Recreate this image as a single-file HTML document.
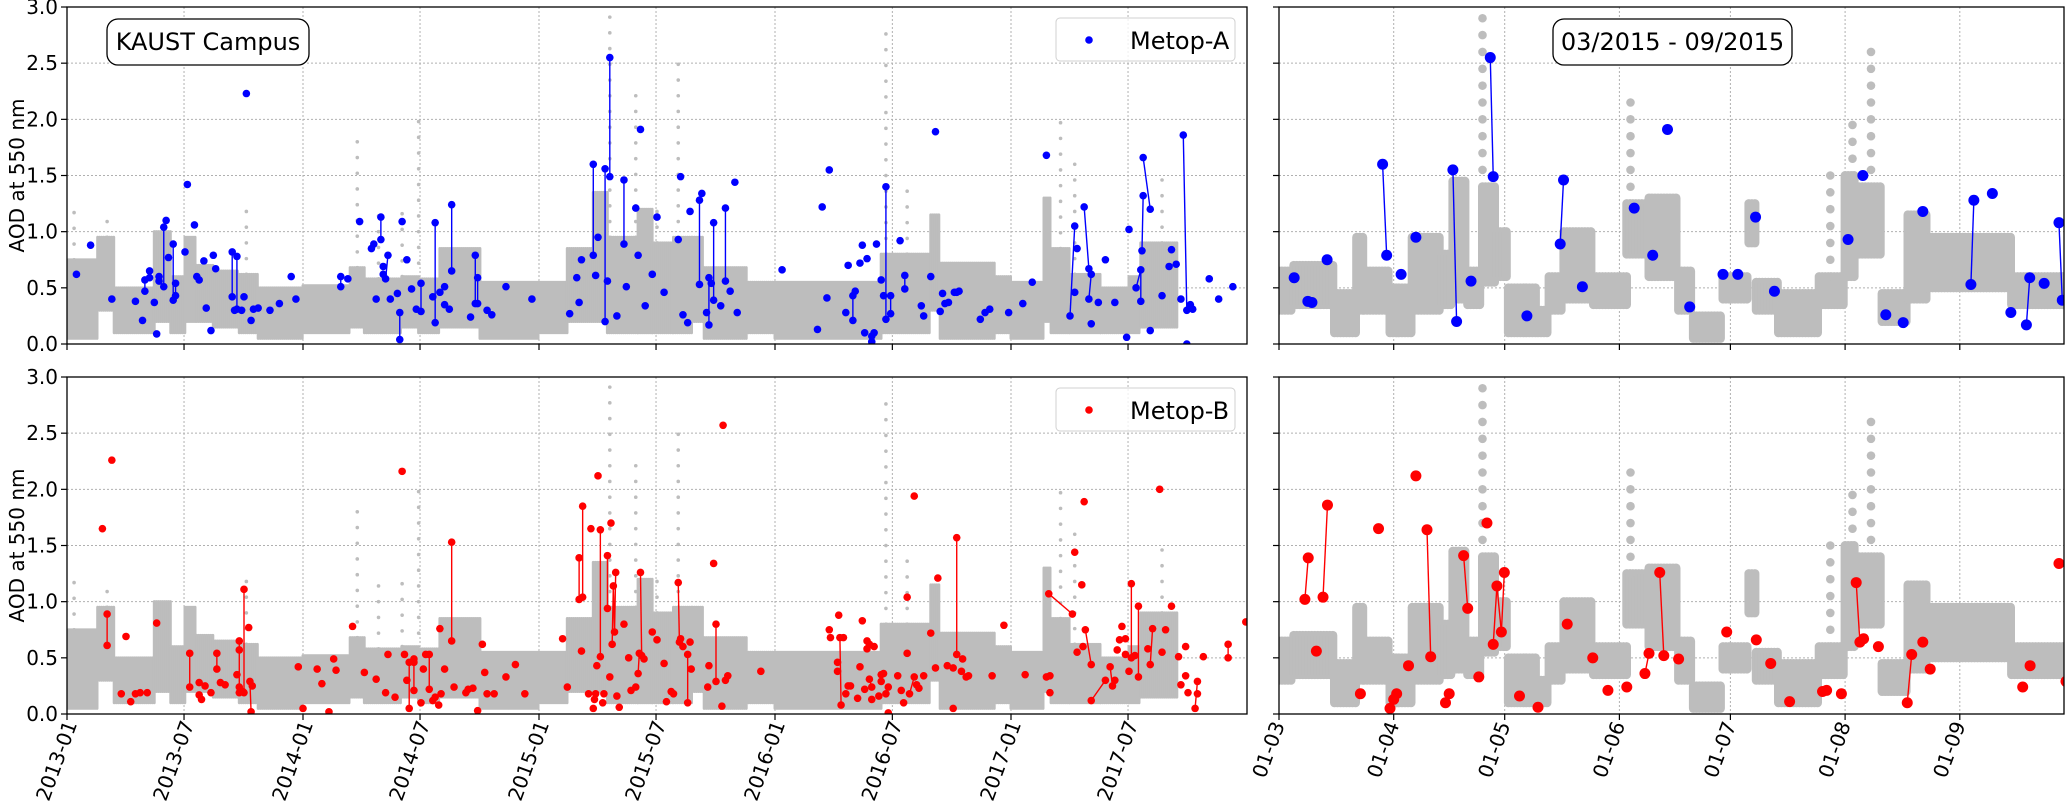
<!DOCTYPE html>
<html><head><meta charset="utf-8"><title>AOD at 550 nm – KAUST Campus</title>
<style>
html,body{margin:0;padding:0;background:#fff;}
svg{display:block;font-family:"DejaVu Sans","Liberation Sans",sans-serif;}
</style></head>
<body>
<svg id="chart" xmlns="http://www.w3.org/2000/svg" width="2067" height="810" viewBox="0 0 2067 810">
<defs>
<clipPath id="cTL"><rect x="67" y="7" width="1180" height="337"/></clipPath>
<clipPath id="cBL"><rect x="67" y="377" width="1180" height="337"/></clipPath>
<clipPath id="cTR"><rect x="1279" y="7" width="785" height="337"/></clipPath>
<clipPath id="cBR"><rect x="1279" y="377" width="785" height="337"/></clipPath>
</defs>
<g id="layer"></g>
</svg>
<script>
// ---------- background ground-truth AOD (grey cloud) : left panels, decimal year ----------
const grayStart=[2013.00,2013.13,2013.20,2013.37,2013.44,2013.50,2013.55,2013.62,2013.73,2013.81,2014.00,2014.20,2014.26,2014.42,2014.49,2014.58,2014.75,2015.00,2015.12,2015.23,2015.29,2015.42,2015.48,2015.57,2015.65,2015.70,2015.88,2016.00,2016.45,2016.66,2016.70,2016.93,2017.00,2017.14,2017.17,2017.25,2017.38,2017.50,2017.55];
const grayEnd=2017.71;
const grayLow=[0.05,0.3,0.1,0.2,0.1,0.2,0.2,0.15,0.1,0.05,0.1,0.15,0.1,0.15,0.1,0.15,0.05,0.1,0.2,0.2,0.1,0.1,0.1,0.1,0.2,0.05,0.1,0.05,0.1,0.3,0.05,0.1,0.05,0.2,0.1,0.1,0.1,0.1,0.15];
const grayHigh=[0.75,0.95,0.5,1.0,0.6,0.95,0.7,0.65,0.62,0.5,0.52,0.68,0.58,0.6,0.58,0.85,0.55,0.55,0.85,1.35,0.95,1.2,0.9,0.95,0.95,0.68,0.55,0.55,0.8,1.15,0.72,0.6,0.55,1.3,0.85,0.62,0.5,0.6,0.9];
const spikeYear=[2013.03,2013.17,2013.76,2014.23,2014.32,2014.42,2014.49,2015.30,2015.41,2015.50,2015.59,2016.47,2016.56,2017.21,2017.27,2017.64];
const spikeTop=[1.22,1.1,1.2,1.9,1.25,1.2,2.05,3.0,2.25,1.25,2.6,2.85,1.4,2.05,1.6,1.55];
// ---------- grey cloud for the Mar–Sep 2015 zoom, day since 2015-03-01 ----------
const zGrayStart=[0,4,15,21,23,30,36,44,47,51,55,59,62,70,73,77,85,94,100,108,112,120,127,129,135,146,153,156,163,170,175,198];
const zGrayEnd=212;
const zGrayLow=[0.3,0.35,0.1,0.3,0.3,0.1,0.3,0.35,0.4,0.35,0.55,0.6,0.1,0.1,0.3,0.4,0.35,0.8,0.6,0.3,0.05,0.4,0.9,0.3,0.1,0.35,0.6,0.8,0.2,0.4,0.5,0.35];
const zGrayHigh=[0.65,0.7,0.45,0.95,0.65,0.5,0.95,0.8,1.45,0.65,1.4,1.0,0.5,0.3,0.6,1.0,0.6,1.25,1.3,0.65,0.25,0.6,1.25,0.55,0.45,0.6,1.5,1.4,0.45,1.15,0.95,0.6];
const zSpikeDay=[21.5,47,55,95,149,155,160];
const zSpikeTop=[1.0,1.2,3.0,2.2,1.63,2.0,2.65];

// ---------- Metop-A (left, decimal year) ----------
const blueYear=[2013.04,2013.10,2013.19,2013.29,2013.32,2013.33,2013.33,2013.35,2013.35,2013.37,2013.38,2013.39,2013.39,2013.41,2013.41,2013.42,2013.43,2013.45,2013.45,2013.46,2013.46,2013.50,2013.51,2013.54,2013.55,2013.56,2013.58,2013.59,2013.61,2013.62,2013.63,2013.70,2013.70,2013.71,2013.72,2013.72,2013.74,2013.75,2013.76,2013.78,2013.79,2013.81,2013.86,2013.90,2013.95,2013.97,2014.16,2014.16,2014.19,2014.24,2014.29,2014.30,2014.31,2014.33,2014.33,2014.34,2014.34,2014.35,2014.36,2014.37,2014.40,2014.41,2014.41,2014.42,2014.44,2014.46,2014.48,2014.50,2014.50,2014.55,2014.56,2014.56,2014.58,2014.60,2014.60,2014.62,2014.63,2014.63,2014.71,2014.73,2014.73,2014.74,2014.74,2014.78,2014.80,2014.86,2014.97,2015.13,2015.16,2015.17,2015.18,2015.23,2015.23,2015.24,2015.25,2015.28,2015.28,2015.29,2015.30,2015.30,2015.33,2015.36,2015.36,2015.37,2015.41,2015.42,2015.43,2015.45,2015.48,2015.50,2015.53,2015.59,2015.60,2015.61,2015.63,2015.64,2015.68,2015.68,2015.69,2015.71,2015.72,2015.72,2015.73,2015.74,2015.74,2015.77,2015.79,2015.79,2015.81,2015.83,2015.84,2016.03,2016.18,2016.20,2016.22,2016.23,2016.30,2016.31,2016.33,2016.33,2016.34,2016.36,2016.37,2016.38,2016.39,2016.41,2016.41,2016.42,2016.43,2016.45,2016.46,2016.47,2016.47,2016.49,2016.49,2016.53,2016.55,2016.55,2016.62,2016.63,2016.66,2016.68,2016.70,2016.71,2016.72,2016.735,2016.76,2016.77,2016.78,2016.87,2016.89,2016.91,2016.99,2017.05,2017.09,2017.15,2017.25,2017.27,2017.27,2017.28,2017.31,2017.33,2017.33,2017.34,2017.34,2017.37,2017.40,2017.44,2017.49,2017.50,2017.53,2017.55,2017.55,2017.555,2017.56,2017.56,2017.59,2017.59,2017.64,2017.67,2017.68,2017.70,2017.72,2017.73,2017.745,2017.745,2017.76,2017.77,2017.84,2017.88,2017.94];
const blueValue=[.62,.88,.40,.38,.21,.47,.57,.65,.59,.37,.09,.60,.56,1.04,.51,1.10,.77,.89,.39,.54,.43,.82,1.42,1.06,.60,.57,.74,.32,.12,.79,.67,.82,.42,.30,.78,.31,.30,.42,2.23,.21,.31,.32,.30,.36,.60,.40,.60,.51,.58,1.09,.85,.89,.40,1.13,.93,.69,.62,.58,.79,.40,.45,.28,.04,1.09,.75,.49,.31,.54,.29,.42,1.08,.19,.46,.51,.35,.31,1.24,.65,.24,.79,.36,.59,.36,.30,.26,.51,.40,.27,.59,.37,.75,1.60,.79,.61,.95,1.56,.20,.56,2.55,1.49,.25,1.46,.89,.51,1.21,.79,1.91,.34,.62,1.13,.46,.93,1.49,.26,.19,1.18,1.28,.53,1.34,.28,.59,.17,.54,1.08,.39,.34,1.21,.56,.47,1.44,.28,.66,.13,1.22,.41,1.55,.28,.70,.43,.21,.47,.72,.88,.10,.76,.07,.02,.10,.89,.57,.43,1.40,.22,.43,.27,.92,.61,.49,.34,.25,.60,1.89,.29,.45,.36,.37,.46,.46,.47,.22,.28,.31,.28,.36,.55,1.68,.25,1.05,.46,.85,1.22,.67,.40,.62,.18,.37,.75,.37,.06,1.02,.50,.66,.38,.83,1.32,1.66,1.20,.12,.43,.69,.84,.71,.40,1.86,.30,.00,.35,.31,.58,.40,.51];
const blueLink=[0,0,0,0,0,0,1,0,0,0,0,0,0,0,1,0,0,0,1,0,1,0,0,0,0,0,0,0,0,0,0,0,1,0,0,1,0,0,0,0,0,0,0,0,0,0,0,1,0,0,0,0,0,0,1,0,0,0,1,0,0,0,1,0,0,0,0,0,1,0,0,1,0,0,0,0,0,1,0,0,1,0,1,0,0,0,0,0,0,0,0,0,1,0,0,0,1,0,0,1,0,0,1,0,0,0,0,0,0,0,0,0,0,0,0,0,0,1,0,0,0,1,0,0,1,0,0,1,0,0,0,0,0,0,0,0,0,0,0,1,0,0,0,0,0,0,0,0,0,0,0,0,1,0,1,0,0,1,0,0,0,0,0,0,0,0,0,0,0,0,0,0,0,0,0,0,0,1,0,0,0,1,0,1,0,0,0,0,0,0,0,1,1,0,1,0,1,0,0,0,0,0,0,0,1,0,0,0,0,0];

// ---------- Metop-B (left, decimal year) ----------
const redYear=[2013.15,2013.17,2013.17,2013.19,2013.23,2013.25,2013.27,2013.29,2013.31,2013.34,2013.38,2013.52,2013.52,2013.56,2013.56,2013.57,2013.585,2013.61,2013.635,2013.635,2013.65,2013.67,2013.72,2013.73,2013.73,2013.73,2013.73,2013.745,2013.75,2013.75,2013.77,2013.775,2013.78,2013.785,2013.98,2014.00,2014.06,2014.08,2014.11,2014.13,2014.14,2014.21,2014.26,2014.31,2014.35,2014.36,2014.39,2014.42,2014.43,2014.44,2014.45,2014.45,2014.47,2014.47,2014.47,2014.50,2014.51,2014.52,2014.535,2014.535,2014.55,2014.56,2014.575,2014.585,2014.58,2014.60,2014.63,2014.63,2014.64,2014.69,2014.70,2014.72,2014.74,2014.76,2014.77,2014.78,2014.81,2014.86,2014.90,2014.94,2015.10,2015.12,2015.17,2015.17,2015.18,2015.185,2015.185,2015.21,2015.22,2015.23,2015.235,2015.24,2015.245,2015.25,2015.26,2015.26,2015.27,2015.275,2015.29,2015.29,2015.30,2015.305,2015.31,2015.315,2015.32,2015.325,2015.33,2015.34,2015.36,2015.38,2015.39,2015.41,2015.42,2015.425,2015.43,2015.435,2015.445,2015.48,2015.50,2015.53,2015.54,2015.56,2015.57,2015.59,2015.595,2015.60,2015.61,2015.63,2015.63,2015.64,2015.645,2015.715,2015.72,2015.74,2015.75,2015.75,2015.775,2015.78,2015.79,2015.80,2015.94,2016.23,2016.235,2016.265,2016.265,2016.27,2016.28,2016.275,2016.29,2016.30,2016.31,2016.32,2016.35,2016.36,2016.37,2016.38,2016.39,2016.39,2016.40,2016.40,2016.41,2016.41,2016.42,2016.44,2016.45,2016.45,2016.46,2016.47,2016.48,2016.48,2016.52,2016.535,2016.545,2016.56,2016.56,2016.57,2016.59,2016.59,2016.60,2016.61,2016.63,2016.66,2016.68,2016.69,2016.73,2016.755,2016.755,2016.77,2016.77,2016.79,2016.795,2016.81,2016.82,2016.92,2016.97,2017.06,2017.15,2017.165,2017.165,2017.16,2017.26,2017.27,2017.28,2017.30,2017.305,2017.31,2017.315,2017.34,2017.34,2017.40,2017.42,2017.43,2017.44,2017.45,2017.46,2017.47,2017.485,2017.485,2017.50,2017.51,2017.51,2017.525,2017.54,2017.54,2017.58,2017.59,2017.60,2017.63,2017.64,2017.655,2017.68,2017.71,2017.72,2017.74,2017.74,2017.75,2017.78,2017.79,2017.79,2017.815,2017.92,2017.92,2017.995];
const redValue=[1.65,.89,.61,2.26,.18,.69,.11,.18,.19,.19,.81,.54,.24,.28,.17,.13,.25,.19,.54,.40,.28,.26,.35,.65,.57,.24,.19,.20,1.11,.19,.77,.29,.02,.25,.42,.05,.40,.27,.02,.49,.39,.78,.37,.31,.19,.53,.15,2.16,.53,.30,.46,.05,.46,.49,.21,.10,.40,.53,.53,.22,.12,.15,.08,.18,.76,.40,1.53,.65,.24,.19,.22,.23,.03,.62,.37,.18,.18,.33,.44,.18,.67,.24,1.02,1.39,.56,1.04,1.85,.18,1.65,.05,.13,.18,.43,2.12,1.64,.51,.10,.18,1.41,.94,.33,1.70,.62,1.14,.73,1.26,.16,.06,.80,.50,.21,.24,.36,.54,1.26,.52,.49,.73,.66,.45,.11,.20,.18,1.17,.64,.67,.60,.53,.10,.64,.40,.24,.43,1.34,.80,.29,.07,2.57,.30,.34,.38,.75,.68,.46,.38,.88,.08,.68,.68,.18,.25,.25,.14,.42,.83,.22,.65,.58,.62,.31,.24,.13,.60,.16,.35,.29,.36,.18,.01,.24,.34,.21,.10,1.04,.54,.18,.33,1.94,.26,.23,.34,.72,.41,1.21,.43,.41,.05,.53,1.57,.38,.49,.33,.34,.34,.79,.35,.33,.19,.34,1.07,.89,1.44,.55,1.15,.60,1.89,.75,.44,.12,.30,.42,.25,.30,.57,.66,.78,.67,.53,.38,1.16,.50,.52,.96,.33,.58,.44,.76,2.00,.55,.75,.96,.51,.26,.60,.34,.19,.05,.29,.18,.51,.62,.50,.82];
const redLink=[0,0,1,0,0,0,0,0,0,0,0,0,1,0,0,0,0,0,0,1,0,0,0,0,1,1,0,0,0,1,0,0,1,0,0,0,0,0,0,0,0,0,0,0,0,0,0,0,0,0,0,1,0,0,1,0,0,0,0,1,0,0,0,0,0,0,0,1,0,0,0,0,0,0,0,0,0,0,0,0,0,0,0,1,0,0,1,0,0,0,0,0,0,0,0,1,0,0,0,1,0,0,0,1,1,1,0,0,0,0,0,0,0,1,0,1,0,0,0,0,0,0,0,0,1,0,0,0,1,0,0,0,0,0,0,1,0,0,0,0,0,0,0,0,0,0,0,1,0,0,0,0,0,0,0,0,0,0,1,0,1,0,0,0,0,0,0,0,0,0,0,0,0,0,0,0,1,0,0,0,0,0,0,0,0,0,0,0,1,0,0,0,0,0,0,0,0,0,0,0,1,0,0,0,0,0,0,1,0,1,0,1,0,0,0,0,0,0,0,0,1,0,0,1,0,0,1,0,0,0,0,0,0,0,0,0,0,1,0,0,0,1,0,0,1,0];

// ---------- Metop-A zoom (day since 2015-03-01) ----------
const zBlueDay=[4.1,7.8,8.9,13,28,29.1,33,37,47,48,51.9,57.1,57.9,67,76.9,76,82,96,101,105,111,120,124,128.8,133.9,153.8,157.8,164,168.7,174,187.8,187,192.8,197.8,202.9,202,206.8,210.8,211.7];
const zBlueValue=[.59,.38,.37,.75,1.60,.79,.62,.95,1.55,.20,.56,2.55,1.49,.25,1.46,.89,.51,1.21,.79,1.91,.33,.62,.62,1.13,.47,.93,1.50,.26,.19,1.18,1.28,.53,1.34,.28,.59,.17,.54,1.08,.39];
const zBlueLink=[0,0,0,0,0,1,0,0,0,1,0,0,1,0,0,1,0,0,0,0,0,0,0,0,0,0,0,0,0,0,0,1,0,0,0,1,0,0,1];
// ---------- Metop-B zoom ----------
const zRedDay=[7,7.9,10.1,11.9,13.1,22,26.9,30,31,31.8,35,37,40,41,45,46,49.9,51,54,56.2,57.9,58.9,60.1,60.9,65,70,77.9,84.8,88.9,94,98.9,100,102.9,104,108,121,129,132.9,138,146.9,148,152,156,157,158,162,169.8,171,174,176,201,203,210.8,212.7];
const zRedValue=[1.02,1.39,.56,1.04,1.86,.18,1.65,.05,.13,.18,.43,2.12,1.64,.51,.10,.18,1.41,.94,.33,1.70,.62,1.14,.73,1.26,.16,.06,.80,.50,.21,.24,.36,.54,1.26,.52,.49,.73,.66,.45,.11,.20,.21,.18,1.17,.64,.67,.60,.10,.53,.64,.40,.24,.43,1.34,.29];
const zRedLink=[0,1,0,0,1,0,0,0,0,0,0,0,0,1,0,0,0,1,0,0,0,1,1,1,0,0,0,0,0,0,0,1,0,1,0,0,0,0,0,0,0,0,0,1,0,0,0,1,0,0,0,0,0,0];

const yTickLabels=['0.0','0.5','1.0','1.5','2.0','2.5','3.0'];
const leftTickLabels=['2013-01','2013-07','2014-01','2014-07','2015-01','2015-07','2016-01','2016-07','2017-01','2017-07'];
const rightTickLabels=['01-03','01-04','01-05','01-06','01-07','01-08','01-09'];

const NS='http://www.w3.org/2000/svg';
const layer=document.getElementById('layer');
function mk(tag,attrs,parent){const e=document.createElementNS(NS,tag);for(const k in attrs)e.setAttribute(k,attrs[k]);(parent||layer).appendChild(e);return e;}

const LX0=67,LX1=1247,RX0=1279,RX1=2064,PXYEAR=236,PXDAY=3.70,PXV=112.33;
const panels=[{top:7,bot:344,clipL:'cTL',clipR:'cTR',name:'top'},{top:377,bot:714,clipL:'cBL',clipR:'cBR',name:'bottom'}];
const xL=yr=>LX0+(yr-2013)*PXYEAR;
const xR=d=>RX0+d*PXDAY;
function labelYear(l){const p=l.split('-');const y=+p[0],m=+p[1];const days=(Date.UTC(y,m-1,1)-Date.UTC(y,0,1))/864e5;const len=(Date.UTC(y+1,0,1)-Date.UTC(y,0,1))/864e5;return y+days/len;}
function labelDay(l){const m=+l.split('-')[1];return (Date.UTC(2015,m-1,1)-Date.UTC(2015,2,1))/864e5;}

function band(g,xf,starts,end,lows,highs,yv,step,w){
  for(let i=0;i<starts.length;i++){
    const a=xf(starts[i]),b=xf(i+1<starts.length?starts[i+1]:end);
    for(let x=a;x<b;x+=step){
      const c=mk('line',{x1:x.toFixed(1),x2:x.toFixed(1),y1:yv(lows[i]),y2:yv(highs[i]),stroke:'#bdbdbd','stroke-width':w,'stroke-linecap':'round'},g);
      
      
    }
  }
}
function spikes(g,xf,xs,tops,highFn,yv,r,dv){
  for(let i=0;i<xs.length;i++){
    const base=highFn(xs[i]);
    for(let v=base;v<=tops[i]+0.001;v+=dv){
      const c=mk('circle',{cx:xf(xs[i]),cy:yv(v),r:r,fill:'#bdbdbd'},g);
      
      
    }
  }
}
function highAt(starts,highs){return x=>{let k=0;for(let i=0;i<starts.length;i++)if(starts[i]<=x)k=i;return highs[k];};}
function series(g,xf,xs,vs,link,yv,color,r,lw,nm){
  for(let i=1;i<xs.length;i++){if(link[i]){
    const l=mk('line',{x1:xf(xs[i-1]),y1:yv(vs[i-1]),x2:xf(xs[i]),y2:yv(vs[i]),stroke:color,'stroke-width':lw},g);
    
    
  }}
  for(let i=0;i<xs.length;i++){
    const c=mk('circle',{cx:xf(xs[i]),cy:yv(vs[i]),r:r,fill:color},g);
    
    
  }
}

panels.forEach((P,pi)=>{
  const yv=v=>P.bot-v*PXV;
  const grid=mk('g',{});
  
  
  yTickLabels.forEach(t=>{const y=yv(+t);
    [[LX0,LX1],[RX0,RX1]].forEach(r=>mk('line',{x1:r[0],x2:r[1],y1:y,y2:y,stroke:'#b0b0b0','stroke-width':1,'stroke-dasharray':'2,2'},grid));});
  leftTickLabels.forEach(t=>{const x=xL(labelYear(t));mk('line',{x1:x,x2:x,y1:P.top,y2:P.bot,stroke:'#b0b0b0','stroke-width':1,'stroke-dasharray':'2,2'},grid);});
  rightTickLabels.forEach(t=>{const x=xR(labelDay(t));if(x>RX0+1)mk('line',{x1:x,x2:x,y1:P.top,y2:P.bot,stroke:'#b0b0b0','stroke-width':1,'stroke-dasharray':'2,2'},grid);});

  const gl=mk('g',{'clip-path':'url(#'+P.clipL+')'});
  
  
  band(gl,xL,grayStart,grayEnd,grayLow,grayHigh,yv,2,3);
  spikes(gl,xL,spikeYear,spikeTop,highAt(grayStart,grayHigh),yv,1.8,0.14);
  if(pi===0) series(gl,xL,blueYear,blueValue,blueLink,yv,'#0000ff',3.8,1.4,'metop-a');
  else series(gl,xL,redYear,redValue,redLink,yv,'#ff0000',3.8,1.4,'metop-b');

  const gr=mk('g',{'clip-path':'url(#'+P.clipR+')'});
  
  
  band(gr,xR,zGrayStart,zGrayEnd,zGrayLow,zGrayHigh,yv,3,9);
  spikes(gr,xR,zSpikeDay,zSpikeTop,highAt(zGrayStart,zGrayHigh),yv,4.3,0.15);
  if(pi===0) series(gr,xR,zBlueDay,zBlueValue,zBlueLink,yv,'#0000ff',5.5,1.4,'metop-a-zoom');
  else series(gr,xR,zRedDay,zRedValue,zRedLink,yv,'#ff0000',5.5,1.4,'metop-b-zoom');

  [[LX0,LX1,'left'],[RX0,RX1,'right']].forEach(r=>{
    const f=mk('rect',{x:r[0],y:P.top,width:r[1]-r[0],height:P.bot-P.top,fill:'none',stroke:'#000','stroke-width':1.3});
    
    
    yTickLabels.forEach(t=>{const y=yv(+t);mk('line',{x1:r[0]-6,x2:r[0],y1:y,y2:y,stroke:'#000','stroke-width':1.2});});
  });
  leftTickLabels.forEach(t=>{const x=xL(labelYear(t));mk('line',{x1:x,x2:x,y1:P.bot,y2:P.bot+6,stroke:'#000','stroke-width':1.2});});
  rightTickLabels.forEach(t=>{const x=xR(labelDay(t));mk('line',{x1:x,x2:x,y1:P.bot,y2:P.bot+6,stroke:'#000','stroke-width':1.2});});

  yTickLabels.forEach(t=>{
    const tx=mk('text',{x:LX0-9,y:yv(+t)+7,'text-anchor':'end','font-size':20,fill:'#000'});
    tx.textContent=t;
    
    
  });
  const cy=(P.top+P.bot)/2;
  const yl=mk('text',{x:0,y:0,transform:'translate(24,'+cy+') rotate(-90)','text-anchor':'middle','font-size':20,fill:'#000'});
  yl.textContent='AOD at 550 nm';
  
  

  const lg=mk('g',{});
  
  
  mk('rect',{x:1056,y:P.top+11,width:179,height:43,rx:4,fill:'#fff','fill-opacity':0.8,stroke:'#d0d0d0','stroke-width':1},lg);
  mk('circle',{cx:1089,cy:P.top+33,r:3.8,fill:pi===0?'#0000ff':'#ff0000'},lg);
  const lt=mk('text',{x:1130,y:P.top+42,'font-size':24,fill:'#000'},lg);
  lt.textContent=pi===0?'Metop-A':'Metop-B';
  
  
});

function box(x,y,w,h,txt,nm){
  const g=mk('g',{});
  
  
  mk('rect',{x:x,y:y,width:w,height:h,rx:11,fill:'#fff',stroke:'#000','stroke-width':1.3},g);
  const t=mk('text',{x:x+w/2,y:y+h/2+8,'text-anchor':'middle','font-size':24,fill:'#000'},g);
  t.textContent=txt;
}
box(107,19,202,46,'KAUST Campus','site-label-box');
box(1553,19,239,46,'03/2015 - 09/2015','period-label-box');

leftTickLabels.forEach(t=>{
  const x=xL(labelYear(t));
  const tx=mk('text',{x:0,y:0,transform:'translate('+(x-4)+',763) rotate(-70)','text-anchor':'middle','font-size':20,fill:'#000'});
  tx.textContent=t;
  
  
});
rightTickLabels.forEach(t=>{
  const x=xR(labelDay(t));
  const tx=mk('text',{x:0,y:0,transform:'translate('+(x-4)+',752) rotate(-70)','text-anchor':'middle','font-size':20,fill:'#000'});
  tx.textContent=t;
  
  
});
</script>
</body></html>
